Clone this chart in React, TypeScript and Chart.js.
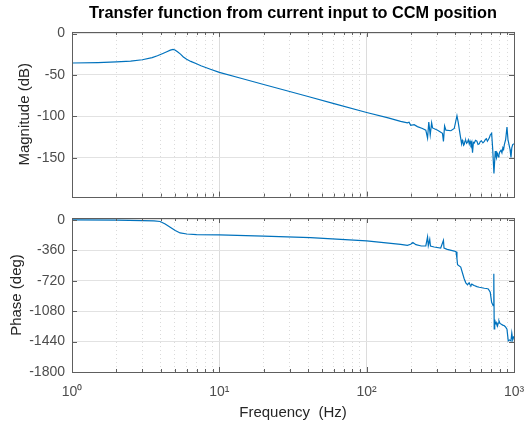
import React, { useEffect, useRef } from 'react';
import { Chart, registerables } from 'chart.js';

Chart.register(...registerables);

const TITLE = 'Transfer function from current input to CCM position';
const X_LABEL = 'Frequency  (Hz)';
const MAG_LABEL = 'Magnitude (dB)';
const PHASE_LABEL = 'Phase (deg)';

const magFreqHz = [
  1, 1.5, 2, 2.5, 3, 3.5, 3.8, 4.1, 4.4, 4.65, 4.85, 5.0, 5.2, 5.45, 5.7, 6.0, 6.4, 7.0, 7.5, 8.7,
  10, 14, 20, 30, 40, 60, 100, 140, 170, 189, 194, 199, 210, 221, 239, 252, 259, 264, 270, 276, 280,
  303, 327, 332, 338, 345, 373, 393, 410, 418, 431, 441, 446, 450, 455, 459, 465, 470, 477, 484, 490, 497, 503, 510, 517, 523, 530, 537, 548, 560,
  570, 581, 590, 600, 615, 629, 640, 650, 660, 669, 680, 690, 705, 716, 731, 746, 753, 760, 767, 774, 782, 790, 800, 816, 828, 840, 850, 860, 878, 896, 910, 925, 940, 954, 966, 980, 1000,
];
const magDb = [
  -35.5, -35, -34.2, -33.3, -31.6, -29, -26.8, -24.3, -21.9, -20, -19, -19.8, -22, -24.8, -28.2, -31, -33.6, -36.5, -38.8, -43,
  -46.9, -54, -61.5, -70, -76, -84.6, -95.3, -101.8, -106, -107.8, -107, -110.8, -110, -112.4, -114.7, -116.7, -126.4, -107, -122.5, -107.8, -114,
  -116.7, -120.5, -130.2, -111.6, -116.7, -117.4, -114.7, -99.2, -107, -122.5, -133.3, -129, -130.5, -135, -134.1, -130, -129, -132.5, -131, -128.5, -133.5, -130, -134.1, -131, -143.8, -131.5, -132.2, -129, -130,
  -134, -133.3, -130.5, -129.5, -132, -130.2, -128, -127, -130, -128.3, -126, -122.5, -120.5, -138, -169, -141.9, -147, -150, -144, -145.7, -149, -147, -143, -141, -144, -138, -140, -134.1, -128, -112.8, -128, -134.1, -140, -149.7, -138, -134.1, -133.3,
];

const phaseFreqHz = [
  1, 2, 3, 3.6, 3.97, 4.29, 4.64, 5.02, 5.42, 6.02, 7.0, 10, 20, 41.6, 100, 170, 189, 199, 206, 216,
  235, 252, 259, 262, 268, 271, 287, 318, 332, 335, 352, 393, 404, 410, 414, 435, 459, 471, 484, 490, 496,
  503, 510, 517, 523, 530, 537, 560, 581, 605, 629, 650, 669, 690, 705, 722, 728, 731, 734, 740, 748, 757, 765, 774, 782, 791, 803, 816, 838, 860, 878, 896, 914,
  934, 954, 966, 980, 1000,
];
const phaseDeg = [
  -1, -3, -8, -13, -19, -48, -87, -127, -155, -167, -174, -178, -192, -210, -249, -289, -301, -289, -269, -293,
  -309, -309, -202, -305, -230, -310, -321, -333, -242, -335, -349, -369, -376, -459, -531, -559, -697, -745, -769, -755, -745,
  -770, -777, -760, -765, -772, -777, -790, -797, -803, -809, -812, -817, -857, -976, -1015, -1000, -638, -1290, -1180, -1230, -1214, -1240, -1253, -1220, -1194, -1225, -1233, -1245, -1253, -1270, -1293, -1432,
  -1420, -1432, -1340, -1420, -1375,
];

const magTicks = [0, -50, -100, -150];
const phaseTicks = [0, -360, -720, -1080, -1440, -1800];
const freqDecades = [1, 10, 100, 1000];
const freqDecadeLabels = ['10\u2070', '10\u00B9', '10\u00B2', '10\u00B3'];
const freqGridHz = [
  1, 2, 3, 4, 5, 6, 7, 8, 9,
  10, 20, 30, 40, 50, 60, 70, 80, 90,
  100, 200, 300, 400, 500, 600, 700, 800, 900,
  1000,
];

const LINE_COLOR = '#0072BD';
const TICK_COLOR = '#4d4d4d';
const LABEL_COLOR = '#262626';
const FONT = "'Liberation Sans', Arial, Helvetica, sans-serif";

const isDecade = (v: any) => freqDecades.includes(Number(v));

const boxPlugin = {
  id: 'matlabBox',
  afterDatasetsDraw(chart: any) {
    const { ctx, chartArea: a, scales } = chart;
    ctx.save();
    ctx.strokeStyle = '#5e5e5e';
    ctx.lineWidth = 1;
    ctx.beginPath();
    const xs = scales.x;
    for (const v of freqGridHz) {
      const px = Math.round(xs.getPixelForValue(v)) + 0.5;
      const len = isDecade(v) ? 5 : 3;
      ctx.moveTo(px, a.top);
      ctx.lineTo(px, a.top + len);
      ctx.moveTo(px, a.bottom);
      ctx.lineTo(px, a.bottom - len);
    }
    const ys = scales.y;
    for (const t of ys.ticks) {
      const py = Math.round(ys.getPixelForValue(t.value)) + 0.5;
      ctx.moveTo(a.left, py);
      ctx.lineTo(a.left + 5, py);
      ctx.moveTo(a.right, py);
      ctx.lineTo(a.right - 5, py);
    }
    ctx.stroke();
    ctx.strokeRect(Math.round(a.left) + 0.5, Math.round(a.top) + 0.5, Math.round(a.width), Math.round(a.height));
    ctx.restore();
  },
};

function xScale(showLabels: boolean) {
  return {
    type: 'logarithmic',
    min: 1,
    max: 1000,
    afterBuildTicks: (s: any) => {
      s.ticks = freqGridHz.map((v) => ({ value: v }));
    },
    afterFit: (s: any) => {
      s.height = showLabels ? 56 : 0;
      s.paddingLeft = 0;
      s.paddingRight = 0;
    },
    grid: {
      color: (c: any) => (c.tick && isDecade(c.tick.value) ? '#dcdcdc' : '#dadada'),
      lineWidth: 1,
      drawTicks: false,
    },
    border: {
      display: false,
      dash: (c: any) => (c.tick && !isDecade(c.tick.value) ? [1, 3] : []),
    },
    ticks: {
      display: showLabels,
      autoSkip: false,
      maxRotation: 0,
      padding: 12,
      color: TICK_COLOR,
      font: { size: 14, family: FONT },
      callback: (v: any) => {
        const i = freqDecades.indexOf(Number(v));
        return i >= 0 ? freqDecadeLabels[i] : '';
      },
    },
    title: {
      display: showLabels,
      text: X_LABEL,
      color: LABEL_COLOR,
      font: { size: 15, family: FONT },
      padding: { top: 0, bottom: 6 },
    },
  };
}

function yScale(min: number, max: number, ticks: number[], label: string, titlePad: number) {
  return {
    type: 'linear',
    min,
    max,
    afterBuildTicks: (s: any) => {
      s.ticks = ticks.map((v) => ({ value: v }));
    },
    afterFit: (s: any) => {
      s.width = 72;
    },
    grid: { color: '#e2e2e2', lineWidth: 1, drawTicks: false },
    border: { display: false },
    ticks: {
      padding: 7,
      color: TICK_COLOR,
      font: { size: 14, family: FONT },
      callback: (v: any) => String(v),
    },
    title: {
      display: true,
      text: label,
      color: LABEL_COLOR,
      font: { size: 15, family: FONT },
      padding: { top: titlePad, bottom: 0 },
    },
  };
}

function lineData(xs: number[], ys: number[]) {
  return xs.map((x, i) => ({ x, y: ys[i] }));
}

export default function App() {
  const magRef = useRef<HTMLCanvasElement>(null);
  const phaseRef = useRef<HTMLCanvasElement>(null);

  useEffect(() => {
    Chart.defaults.font.family = FONT;
    const common: any = {
      responsive: false,
      devicePixelRatio: 1,
      animation: false,
      events: [],
    };
    const c1 = new Chart(magRef.current as HTMLCanvasElement, {
      type: 'line',
      data: {
        datasets: [
          {
            data: lineData(magFreqHz, magDb),
            borderColor: LINE_COLOR,
            borderWidth: 1.2,
            pointRadius: 0,
            fill: false,
            tension: 0,
          },
        ],
      },
      options: {
        ...common,
        layout: { padding: { left: 0, right: 10, top: 0, bottom: 9 } },
        plugins: {
          legend: { display: false },
          tooltip: { enabled: false },
          title: {
            display: true,
            text: TITLE,
            fullSize: false,
            color: '#000',
            font: { size: 16.3, weight: 'bold', family: FONT },
            padding: { top: 4, bottom: 8.4 },
          },
        },
        scales: {
          x: xScale(false),
          y: yScale(-197, 2, magTicks, MAG_LABEL, 16),
        },
      } as any,
      plugins: [boxPlugin],
    });
    const c2 = new Chart(phaseRef.current as HTMLCanvasElement, {
      type: 'line',
      data: {
        datasets: [
          {
            data: lineData(phaseFreqHz, phaseDeg),
            borderColor: LINE_COLOR,
            borderWidth: 1.2,
            pointRadius: 0,
            fill: false,
            tension: 0,
          },
        ],
      },
      options: {
        ...common,
        layout: { padding: { left: 0, right: 10, top: 18, bottom: 0 } },
        plugins: {
          legend: { display: false },
          tooltip: { enabled: false },
        },
        scales: {
          x: xScale(true),
          y: yScale(-1800, 22, phaseTicks, PHASE_LABEL, 8),
        },
      } as any,
      plugins: [boxPlugin],
    });
    return () => {
      c1.destroy();
      c2.destroy();
    };
  }, []);

  return (
    <div style={{ position: 'absolute', left: 0, top: 0, width: 524, height: 428, background: '#fff' }}>
      <canvas ref={magRef} width={524} height={212} style={{ position: 'absolute', left: 0, top: 0 }} />
      <canvas ref={phaseRef} width={524} height={228} style={{ position: 'absolute', left: 0, top: 200 }} />
    </div>
  );
}
